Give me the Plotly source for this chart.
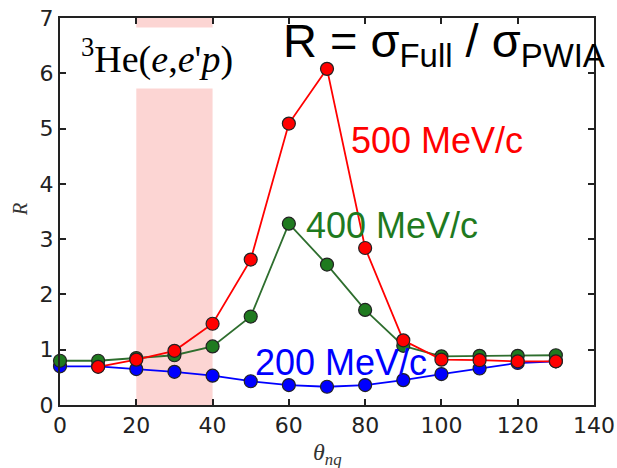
import plotly.graph_objects as go

theta = [0, 10, 20, 30, 40, 50, 60, 70, 80, 90, 100, 110, 120, 130]
r_200 = [0.70, 0.70, 0.65, 0.60, 0.53, 0.43, 0.36, 0.33, 0.36, 0.45, 0.56, 0.66, 0.76, 0.79]
r_400 = [0.80, 0.80, 0.85, 0.90, 1.06, 1.60, 3.28, 2.54, 1.72, 1.07, 0.88, 0.89, 0.89, 0.90]
theta_500 = [10, 20, 30, 40, 50, 60, 70, 80, 90, 100, 110, 120, 130]
r_500 = [0.69, 0.82, 0.98, 1.47, 2.63, 5.09, 6.08, 2.84, 1.17, 0.82, 0.81, 0.79, 0.79]

shade_x = [20, 40]
x_ticks = [0, 20, 40, 60, 80, 100, 120, 140]
y_ticks = [0, 1, 2, 3, 4, 5, 6, 7]

RED = "#ff0000"
GREEN = "#1f7a1f"
BLUE = "#0000ff"

fig = go.Figure()

fig.add_vrect(x0=shade_x[0], x1=shade_x[1], y0=0, y1=1, fillcolor="#fcd5d3",
              line_width=0, layer="below")

def add_series(x, y, color, lcolor):
    fig.add_trace(go.Scatter(
        x=x, y=y, mode="lines+markers",
        line=dict(color=lcolor, width=1.8),
        marker=dict(size=13, color=color, line=dict(color="#222222", width=1.2)),
        showlegend=False, cliponaxis=False))

add_series(theta, r_200, BLUE, BLUE)
add_series(theta, r_400, GREEN, "#2e6e2e")
add_series(theta_500, r_500, RED, RED)

lab_font = "Liberation Sans, Arial, sans-serif"
fig.add_annotation(x=75.7, y=4.78, xref="x", yref="y", text="500 MeV/c",
                   showarrow=False, xanchor="left", yanchor="middle",
                   font=dict(family=lab_font, size=36, color=RED))
fig.add_annotation(x=64.0, y=3.25, xref="x", yref="y", text="400 MeV/c",
                   showarrow=False, xanchor="left", yanchor="middle",
                   font=dict(family=lab_font, size=36, color=GREEN))
fig.add_annotation(x=50.5, y=0.76, xref="x", yref="y", text="200 MeV/c",
                   showarrow=False, xanchor="left", yanchor="middle",
                   font=dict(family=lab_font, size=36, color=BLUE))

fig.add_annotation(x=25.3, y=6.27, xref="x", yref="y",
                   text="<sup>3</sup>He(<i>e</i>,<i>e</i>'<i>p</i>)",
                   showarrow=False, xanchor="center", yanchor="middle",
                   bgcolor="white", borderpad=4, height=52, valign="top",
                   font=dict(family="Liberation Serif, Times New Roman, serif", size=38, color="black"))

fig.add_annotation(x=0.414, y=0.932, xref="paper", yref="paper",
                   text="R = σ<sub>Full</sub> / σ<sub>PWIA</sub>",
                   showarrow=False, xanchor="left", yanchor="middle",
                   font=dict(family=lab_font, size=47, color="black"))

# axis titles
fig.add_annotation(x=-0.076, y=0.505, xref="paper", yref="paper", text="<i>R</i>",
                   showarrow=False, textangle=-90, xanchor="center", yanchor="middle",
                   font=dict(family="Liberation Serif, serif", size=20, color="#333333"))
fig.add_annotation(x=0.5, y=-0.127, xref="paper", yref="paper",
                   text="<i>θ</i><sub><i>nq</i></sub>",
                   showarrow=False, xanchor="center", yanchor="middle",
                   font=dict(family="Liberation Serif, serif", size=24, color="#333333"))

axis_common = dict(showline=True, linecolor="#222222", linewidth=2, mirror="ticks",
                   ticks="inside", ticklen=6, tickcolor="#222222", tickwidth=1.5,
                   showgrid=False, zeroline=False, automargin=False,
                   tickfont=dict(family="DejaVu Sans, sans-serif", size=22, color="#222222"))

fig.update_xaxes(range=[0, 140], tickvals=x_ticks, **axis_common)
fig.update_yaxes(range=[0, 7], tickvals=y_ticks, **axis_common)

fig.update_layout(width=617, height=468, margin=dict(l=60, r=23, t=18, b=63, autoexpand=False),
                  plot_bgcolor="white", paper_bgcolor="white")

fig.write_html("out.html", config={"displayModeBar": False},
               post_script="document.body.style.margin='0px';")
